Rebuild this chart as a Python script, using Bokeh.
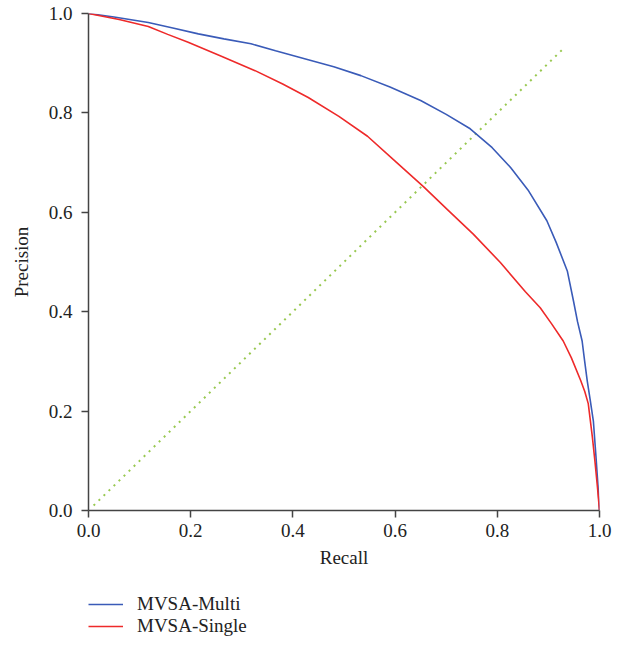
from bokeh.plotting import figure
from bokeh.layouts import column
from bokeh.models import Legend, LegendItem, Range1d, FixedTicker
from bokeh.embed import file_html
from bokeh.resources import INLINE

# MVSA-Multi precision-recall curve
multi_recall = [0.0, 0.05, 0.117, 0.165, 0.215, 0.265, 0.318, 0.366, 0.430, 0.480,
                0.533, 0.590, 0.650, 0.700, 0.747, 0.790, 0.826, 0.860, 0.897, 0.915,
                0.937, 0.949, 0.957, 0.966, 0.971, 0.976, 0.982, 0.988, 0.993, 0.997, 1.0]
multi_precision = [1.0, 0.993, 0.982, 0.971, 0.959, 0.949, 0.939, 0.925, 0.907, 0.893,
                   0.875, 0.852, 0.825, 0.797, 0.768, 0.730, 0.690, 0.645, 0.583, 0.540,
                   0.482, 0.422, 0.380, 0.341, 0.300, 0.261, 0.221, 0.180, 0.110, 0.050, 0.0]

# MVSA-Single precision-recall curve
single_recall = [0.0, 0.06, 0.117, 0.155, 0.195, 0.260, 0.326, 0.380, 0.430, 0.490,
                 0.546, 0.600, 0.656, 0.705, 0.753, 0.806, 0.855, 0.884, 0.906, 0.929,
                 0.945, 0.963, 0.971, 0.978, 0.986, 0.991, 0.996, 1.0]
single_precision = [1.0, 0.988, 0.974, 0.958, 0.942, 0.914, 0.885, 0.858, 0.831, 0.793,
                    0.753, 0.703, 0.651, 0.603, 0.556, 0.499, 0.440, 0.408, 0.376, 0.341,
                    0.307, 0.262, 0.240, 0.215, 0.148, 0.100, 0.047, 0.0]

# reference diagonal
diag_x = [0.01, 0.93]
diag_y = [0.01, 0.93]

series_names = ["MVSA-Multi", "MVSA-Single"]
series_colors = ["#3a5bb8", "#ee2a2a"]

ticks = [0.0, 0.2, 0.4, 0.6, 0.8, 1.0]
tick_labels = {0.0: "0.0", 0.2: "0.2", 0.4: "0.4", 0.6: "0.6", 0.8: "0.8", 1.0: "1.0"}

FONT = "Liberation Serif"

p = figure(width=620, height=580, output_backend="svg", toolbar_location=None,
           x_range=Range1d(0, 1), y_range=Range1d(0, 1),
           min_border_left=88, min_border_right=21, min_border_top=13, min_border_bottom=70)
p.outline_line_color = None
p.grid.visible = False

p.line(diag_x, diag_y, line_color="#98c850", line_width=2, line_dash="2 5")
p.line(multi_recall, multi_precision, line_color=series_colors[0], line_width=1.6)
p.line(single_recall, single_precision, line_color=series_colors[1], line_width=1.6)

for ax in (p.xaxis[0], p.yaxis[0]):
    ax.ticker = FixedTicker(ticks=ticks)
    ax.major_label_overrides = tick_labels
    ax.minor_tick_line_color = None
    ax.major_tick_out = 7
    ax.major_tick_in = 0
    ax.axis_line_color = "#444444"
    ax.axis_line_width = 1.5
    ax.major_tick_line_color = "#444444"
    ax.major_tick_line_width = 1.5
    ax.major_label_text_font = FONT
    ax.major_label_text_font_size = "19px"
    ax.major_label_text_color = "#222222"
    ax.axis_label_text_font = FONT
    ax.axis_label_text_font_size = "19px"
    ax.axis_label_text_font_style = "normal"
    ax.axis_label_text_color = "#222222"

p.xaxis.axis_label = "Recall"
p.yaxis.axis_label = "Precision"
p.xaxis.major_label_standoff = 6
p.yaxis.major_label_standoff = 9
p.xaxis.axis_label_standoff = 7
p.yaxis.axis_label_standoff = 14

# legend strip below the chart
lg = figure(width=620, height=60, output_backend="svg", toolbar_location=None,
            x_axis_type=None, y_axis_type=None,
            x_range=Range1d(0, 1), y_range=Range1d(0, 1),
            min_border_left=88, min_border_right=0, min_border_top=13, min_border_bottom=0)
lg.outline_line_color = None
lg.grid.visible = False
nan = float("nan")
items = []
for name, col in zip(series_names, series_colors):
    rr = lg.line([nan], [nan], line_color=col, line_width=1.6)
    items.append(LegendItem(label=name, renderers=[rr]))

legend = Legend(items=items, location="top_left", orientation="vertical")
legend.margin = 0
legend.padding = 0
legend.spacing = 0
legend.glyph_width = 35
legend.glyph_height = 22
legend.label_standoff = 14
legend.label_height = 22
legend.border_line_color = None
legend.background_fill_alpha = 0
legend.label_text_font = FONT
legend.label_text_font_size = "19px"
legend.label_text_color = "#222222"
lg.add_layout(legend, "center")

layout = column(p, lg)
open("out.html", "w").write(file_html(layout, INLINE))
